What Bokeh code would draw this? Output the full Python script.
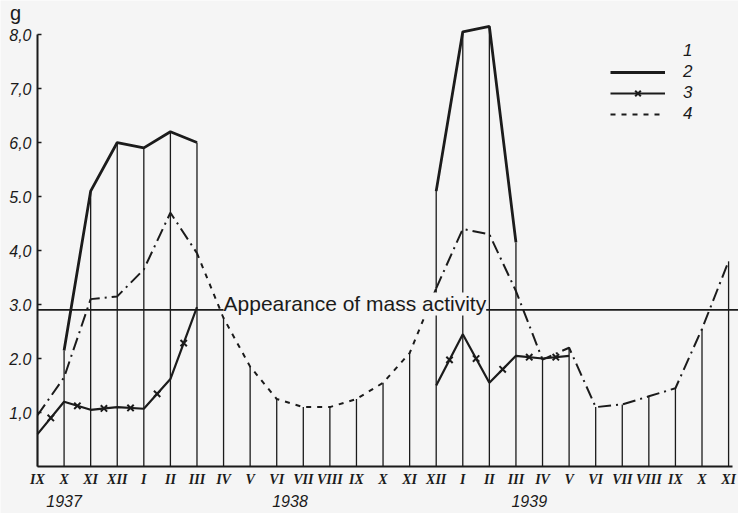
import math
from bokeh.plotting import figure
from bokeh.models import Range1d, FixedTicker, Label, Legend, LegendItem
from bokeh.embed import file_html
from bokeh.resources import INLINE

NaN = float("nan")

# x categories: months Sept 1937 .. Nov 1939
MONTHS = ["IX", "X", "XI", "XII", "I", "II", "III", "IV", "V", "VI", "VII", "VIII",
          "IX", "X", "XI", "XII", "I", "II", "III", "IV", "V", "VI", "VII", "VIII",
          "IX", "X", "XI"]
YEARS = ["1937", "1938", "1939"]
YEAR_POS = [1, 9.5, 18.5]

Y_TICKS = [1, 2, 3, 4, 5, 6, 7, 8]
Y_TICK_LABELS = ["1,0", "2.0", "3.0", "4,0", "5.0", "6,0", "7,0", "8,0"]
Y_UNIT = "g"

# series (g)
S1 = [0.95, 1.65, 3.1, 3.15, 3.65, 4.7, 3.95,
      NaN, NaN, NaN, NaN, NaN, NaN, NaN, NaN,
      3.3, 4.4, 4.3, 3.25, 1.98, 2.2, 1.1, 1.15, 1.3, 1.45, 2.55, 3.8]
S2 = [NaN, 2.15, 5.1, 6.0, 5.9, 6.2, 6.0,
      NaN, NaN, NaN, NaN, NaN, NaN, NaN, NaN,
      5.1, 8.05, 8.15, 4.15, NaN, NaN, NaN, NaN, NaN, NaN, NaN, NaN]
S3 = [0.6, 1.2, 1.05, 1.1, 1.07, 1.62, 2.95,
      NaN, NaN, NaN, NaN, NaN, NaN, NaN, NaN,
      1.5, 2.45, 1.55, 2.05, 2.0, 2.05, NaN, NaN, NaN, NaN, NaN, NaN]
S4 = [NaN, NaN, NaN, NaN, NaN, NaN, 3.95,
      2.75, 1.85, 1.25, 1.1, 1.1, 1.25, 1.55, 2.1,
      3.3, NaN, NaN, NaN, NaN, NaN, NaN, NaN, NaN, NaN, NaN, NaN]
SERIES_NAMES = ["1", "2", "3", "4"]

THRESHOLD = 2.9
THRESHOLD_TEXT = "Appearance of mass activity"
THRESHOLD_TEXT_AT = 7  # month index where the note starts

INK = "#1b1b1b"
BG = "#f5f5f5"

idx = list(range(len(MONTHS)))


def ok(v):
    return not math.isnan(v)


tops = []
for i in idx:
    vals = [s[i] for s in (S1, S2, S3, S4) if ok(s[i])]
    tops.append(max(vals))

mid_x, mid_y = [], []
for i in idx[:-1]:
    if ok(S3[i]) and ok(S3[i + 1]):
        mid_x.append(i + 0.5)
        mid_y.append((S3[i] + S3[i + 1]) / 2)

X_RANGE = Range1d(-1.392, 26.373)
Y_RANGE = Range1d(-0.870, 8.630)

p = figure(width=738, height=513, output_backend="svg", toolbar_location=None,
           title=None, x_range=X_RANGE, y_range=Y_RANGE,
           min_border=0, min_border_left=0, min_border_right=0,
           min_border_top=0, min_border_bottom=0)
p.background_fill_color = BG
p.border_fill_color = BG
p.outline_line_color = None
p.grid.visible = False

# month verticals
p.segment(x0=idx, y0=[0] * len(idx), x1=idx, y1=tops, line_color=INK, line_width=1.3)

# threshold line, from the first month to the right edge
p.segment(x0=[idx[0]], y0=[THRESHOLD], x1=[X_RANGE.end], y1=[THRESHOLD],
          line_color=INK, line_width=1.6)

r4 = p.line(idx, S4, line_color=INK, line_width=2, line_dash="5 6")
r1 = p.line(idx, S1, line_color=INK, line_width=2, line_dash="13 5 2 5")
r2 = p.line(idx, S2, line_color=INK, line_width=2.8)
r3 = p.line(idx, S3, line_color=INK, line_width=2.2)
r3m = p.scatter(mid_x, mid_y, marker="x", size=9, line_color=INK, line_width=2)
r1_leg = p.line(x=[], y=[], line_color=INK, line_width=2.2, line_dash="15 10")

note = Label(x=THRESHOLD_TEXT_AT, y=THRESHOLD, x_offset=0, y_offset=6,
             text=THRESHOLD_TEXT, text_font="Liberation Sans", text_font_size="21px",
             text_color=INK, text_align="left", text_baseline="alphabetic",
             background_fill_color=BG, background_fill_alpha=1.0)
p.add_layout(note)

# axes (drawn at the data origin, inside the frame)
xa = p.xaxis[0]
xa.fixed_location = 0
xa.ticker = FixedTicker(ticks=idx)
xa.major_label_overrides = {i: m for i, m in zip(idx, MONTHS)}
xa.major_tick_in = 0
xa.major_tick_out = 0
xa.minor_tick_line_color = None
xa.axis_line_width = 2
xa.axis_line_color = INK
xa.bounds = (0, 26.15)
xa.major_label_text_font = "Liberation Serif"
xa.major_label_text_font_style = "bold italic"
xa.major_label_text_font_size = "14px"
xa.major_label_text_color = INK
xa.major_label_standoff = 5

ya = p.yaxis[0]
ya.fixed_location = 0
ya.ticker = FixedTicker(ticks=Y_TICKS)
ya.major_label_overrides = {t: l for t, l in zip(Y_TICKS, Y_TICK_LABELS)}
ya.major_tick_in = 4
ya.major_tick_out = 0
ya.major_tick_line_width = 1.5
ya.major_tick_line_color = INK
ya.minor_tick_line_color = None
ya.axis_line_width = 2
ya.axis_line_color = INK
ya.bounds = (0, 8)
ya.major_label_text_font = "Liberation Sans"
ya.major_label_text_font_style = "italic"
ya.major_label_text_font_size = "16px"
ya.major_label_text_color = INK
ya.major_label_standoff = 6

unit = Label(x=0, y=Y_TICKS[-1], x_offset=-22, y_offset=22, text=Y_UNIT,
             text_font="Liberation Sans", text_font_size="20px", text_color=INK,
             text_align="center", text_baseline="middle")
p.add_layout(unit)

for yr, pos in zip(YEARS, YEAR_POS):
    p.add_layout(Label(x=pos, y=0, y_offset=-34, text=yr, text_font="Liberation Sans",
                       text_font_style="italic", text_font_size="16px",
                       text_color=INK, text_align="center", text_baseline="middle"))

legend = Legend(items=[
    LegendItem(label=SERIES_NAMES[0], renderers=[r1_leg]),
    LegendItem(label=SERIES_NAMES[1], renderers=[r2]),
    LegendItem(label=SERIES_NAMES[2], renderers=[r3, r3m]),
    LegendItem(label=SERIES_NAMES[3], renderers=[r4]),
], location=(610, 389))
legend.glyph_width = 55
legend.glyph_height = 20
legend.label_height = 20
legend.label_standoff = 18
legend.spacing = 1
legend.padding = 0
legend.margin = 0
legend.background_fill_alpha = 0
legend.border_line_alpha = 0
legend.label_text_font = "Liberation Sans"
legend.label_text_font_style = "italic"
legend.label_text_font_size = "17px"
legend.label_text_color = INK
p.add_layout(legend)

open("out.html", "w").write(file_html(p, INLINE))
